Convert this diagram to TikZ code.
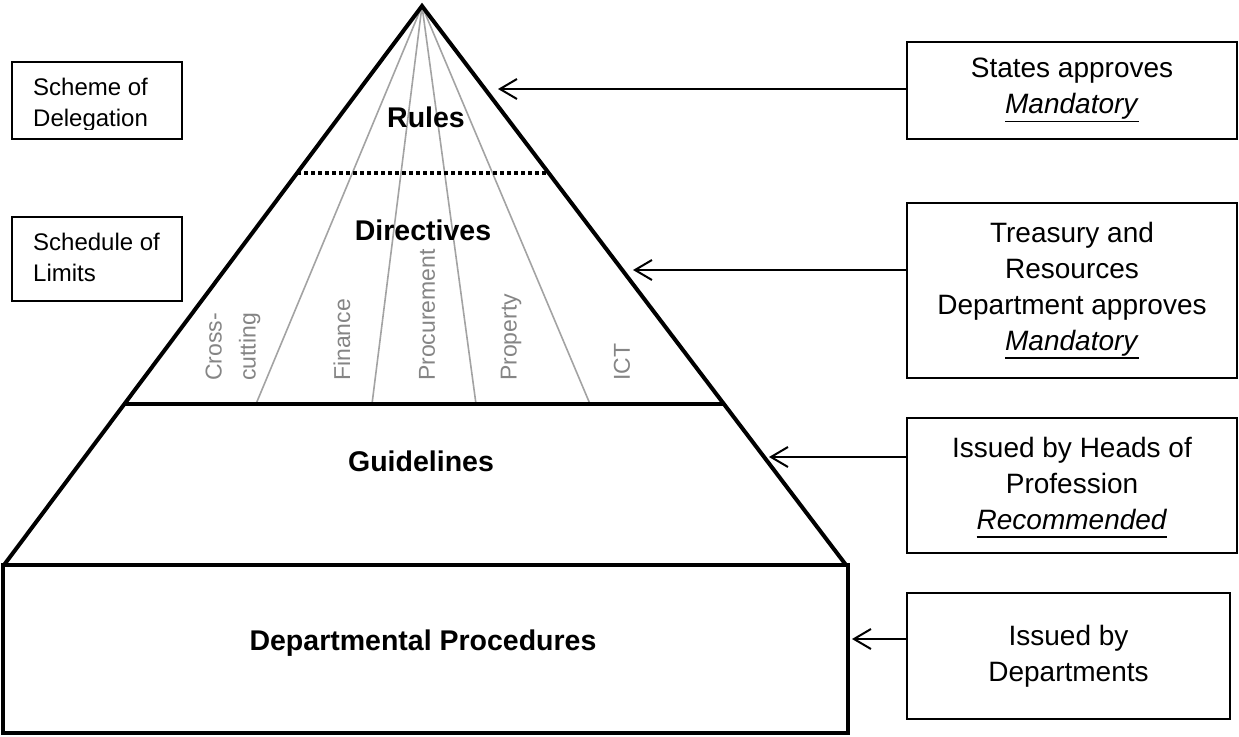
\documentclass[tikz,border=0pt]{standalone}
\usepackage{fontspec}
\setmainfont{Liberation Sans}
\usetikzlibrary{arrows.meta}
% underlined italic status word with a heavier rule
\newcommand\ulmark[1]{\setbox0\hbox{\textit{#1}}\rlap{\raisebox{-9pt}{\rule{\wd0}{1.8pt}}}\box0}
\begin{document}
\begin{tikzpicture}[x=1pt,y=-1pt,
  edge/.style={line width=4pt},
  fan/.style={line width=1.6pt, draw=black!36},
  sector/.style={text=black!48, rotate=90, anchor=west, inner sep=0pt,
    font=\fontsize{23}{34}\selectfont, align=left},
  tier/.style={font=\fontsize{28.5}{34}\selectfont\bfseries, inner sep=0pt, anchor=base},
  infobox/.style={draw, line width=2pt, inner sep=0pt},
  infotext/.style={font=\fontsize{28}{36}\selectfont, align=center, inner sep=0pt, anchor=north},
  notetext/.style={font=\fontsize{24}{31}\selectfont, align=left, inner sep=0pt, anchor=north west},
  pointer/.style={line width=2pt, -{Straight Barb[length=17pt,width=20pt]}},
]
\useasboundingbox (0,0) rectangle (1239,736);

% pyramid outline
\coordinate (apex)  at (422,6);
\coordinate (baseL) at (4,565);
\coordinate (baseR) at (846,565);
\coordinate (dotL)  at (297,173);
\coordinate (dotR)  at (549,173);
\coordinate (dirL)  at (124,404);
\coordinate (dirR)  at (724,404);

% fan of subject areas
\coordinate (f1) at (256,404);
\coordinate (f2) at (372,404);
\coordinate (f3) at (476,404);
\coordinate (f4) at (590,404);
\foreach \f in {f1,f2,f3,f4} \draw[fan] (apex) -- (\f);

\draw[edge, line join=miter] (baseL) -- (apex) -- (baseR);
\draw[line width=4pt, dash pattern=on 4pt off 3pt] (dotL) -- (dotR);
\draw[edge] (dirL) -- (dirR);

% procedures block
\node[draw, line width=3.5pt, minimum width=845pt, minimum height=168pt, inner sep=0pt]
  (proc) at (425.5,649) {};

% tier names
\node[tier] (rules)  at (426,127) {Rules};
\node[tier] (direct) at (423,240) {Directives};
\node[tier] (guide)  at (421,471) {Guidelines};
\node[tier] (depts)  at (423,650) {Departmental Procedures};

% subject area labels
\node[sector] (cross) at (233,381) {Cross-\\cutting};
\node[sector] (fin)   at (342,381) {Finance};
\node[sector] (procu) at (427,381) {Procurement};
\node[sector] (prop)  at (511,381) {Property};
\node[sector] (ict)   at (622,381) {ICT};

% left notes
\node[infobox, minimum width=170pt, minimum height=77pt] (scheme) at (97,100.5) {};
\begin{scope}
  \clip (13,63) rectangle (181,129);
  \node[notetext] (schemeT) at (33,78) {Scheme of\\Delegation};
\end{scope}
\node[infobox, minimum width=170pt, minimum height=84pt] (limits) at (97,259) {};
\node[notetext] (limitsT) at (33,233) {Schedule of\\Limits};

% approval boxes
\node[infobox, minimum width=330pt, minimum height=97pt]  (states) at (1072,90.5) {};
\node[infobox, minimum width=330pt, minimum height=175pt] (treas)  at (1072,290.5) {};
\node[infobox, minimum width=330pt, minimum height=135pt] (heads)  at (1072,485.5) {};
\node[infobox, minimum width=323pt, minimum height=126pt] (issue)  at (1068.5,656) {};

\node[infotext] (statesT) at (1072,57.6) {States approves\\\ulmark{Mandatory}};
\node[infotext] (treasT)  at (1072,221.6) {Treasury and\\Resources\\Department approves\\\ulmark{Mandatory}};
\node[infotext] (headsT)  at (1072,436.6) {Issued by Heads of\\Profession\\\ulmark{Recommended}};
\node[infotext] (issueT)  at (1068.5,624.6) {Issued by\\Departments};

% pointers onto the pyramid
\coordinate (tip1) at (498,89);
\coordinate (tip2) at (633,270);
\coordinate (tip3) at (769,457);
\coordinate (tip4) at (852,639);
\draw[pointer] (tip1 -| states.west) -- (tip1);
\draw[pointer] (tip2 -| treas.west)  -- (tip2);
\draw[pointer] (tip3 -| heads.west)  -- (tip3);
\draw[pointer] (tip4 -| issue.west)  -- (tip4);
\end{tikzpicture}
\end{document}
